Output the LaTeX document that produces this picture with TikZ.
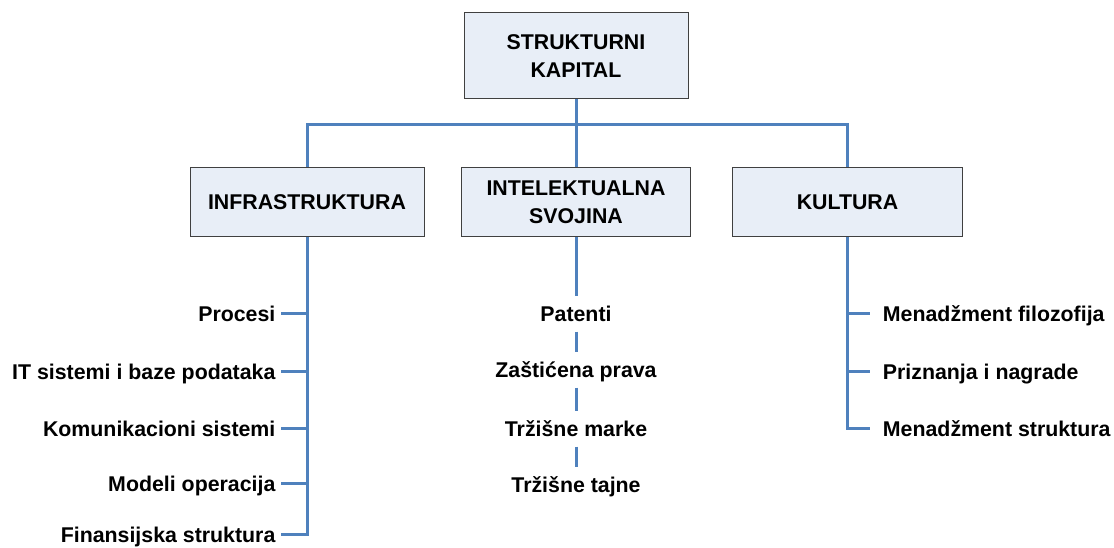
\documentclass[tikz,border=0pt]{standalone}
\usepackage{fontspec}
\setmainfont{Liberation Sans}

\definecolor{plava}{RGB}{79,129,189}
\definecolor{pozadina}{RGB}{232,238,247}

\tikzset{
	okvir/.style={draw=black!75, line width=0.75pt, fill=pozadina, align=center,
		minimum width=172pt, minimum height=52pt, inner sep=0.75pt,
		font=\fontsize{16}{21}\selectfont\bfseries},
	stavka/.style={inner xsep=4pt, inner ysep=7pt, text height=12pt, text depth=0pt,
		font=\fontsize{16}{21}\selectfont\bfseries},
	stavkad/.style={stavka, inner xsep=9.5pt},
	veza/.style={draw=plava, line width=2.25pt}
}

\begin{document}
\begin{tikzpicture}[x=0.75pt,y=0.75pt,yscale=-1,xscale=1]
	\useasboundingbox (0,0) rectangle (1114,548);

	% Boxes
	\node [okvir, minimum width=168pt, minimum height=64.5pt] (kapital) at (576,56) {STRUKTURNI\\KAPITAL};
	\node [okvir, minimum width=175.5pt] (infra) at (307,202) {INFRASTRUKTURA};
	\node [okvir] (svojina) at (576,202) {INTELEKTUALNA\\SVOJINA};
	\node [okvir] (kultura) at (847.5,202) {KULTURA};
	\coordinate (bus) at (576,125);

	% Text Node
	\node [stavka, anchor=base east] (procesi) at (281,322) {Procesi};
	\node [stavka, anchor=base east] (it) at (281,380) {IT sistemi i baze podataka};
	\node [stavka, anchor=base east] (komun) at (281,437) {Komunikacioni sistemi};
	\node [stavka, anchor=base east] (modeli) at (281,492) {Modeli operacija};
	\node [stavka, anchor=base east] (finans) at (281,543) {Finansijska struktura};
	% Text Node
	\node [stavka, anchor=base] (patenti) at (576,322) {Patenti};
	\node [stavka, anchor=base] (zasticena) at (576,378) {Zaštićena prava};
	\node [stavka, anchor=base] (marke) at (576,437) {Tržišne marke};
	\node [stavka, anchor=base] (tajne) at (576,493) {Tržišne tajne};
	% Text Node
	\node [stavkad, anchor=base west] (filoz) at (870,322) {Menadžment filozofija};
	\node [stavkad, anchor=base west] (nagrade) at (870,380) {Priznanja i nagrade};
	\node [stavkad, anchor=base west] (mstruk) at (870,437) {Menadžment struktura};

	%Straight Lines
	\draw [veza] (kapital) -- (svojina);
	\draw [veza] (infra) |- (bus) -| (kultura);
	%Straight Lines
	\draw [veza] (infra.south) |- (finans);
	\foreach \n in {procesi,it,komun,modeli}
		\draw [veza] (\n) -- (\n -| infra.south);
	%Straight Lines
	\draw [veza] (svojina) -- (patenti) -- (zasticena) -- (marke) -- (tajne);
	%Straight Lines
	\draw [veza] (kultura.south) |- (mstruk);
	\foreach \n in {filoz,nagrade}
		\draw [veza] (\n -| kultura.south) -- (\n);
\end{tikzpicture}
\end{document}
